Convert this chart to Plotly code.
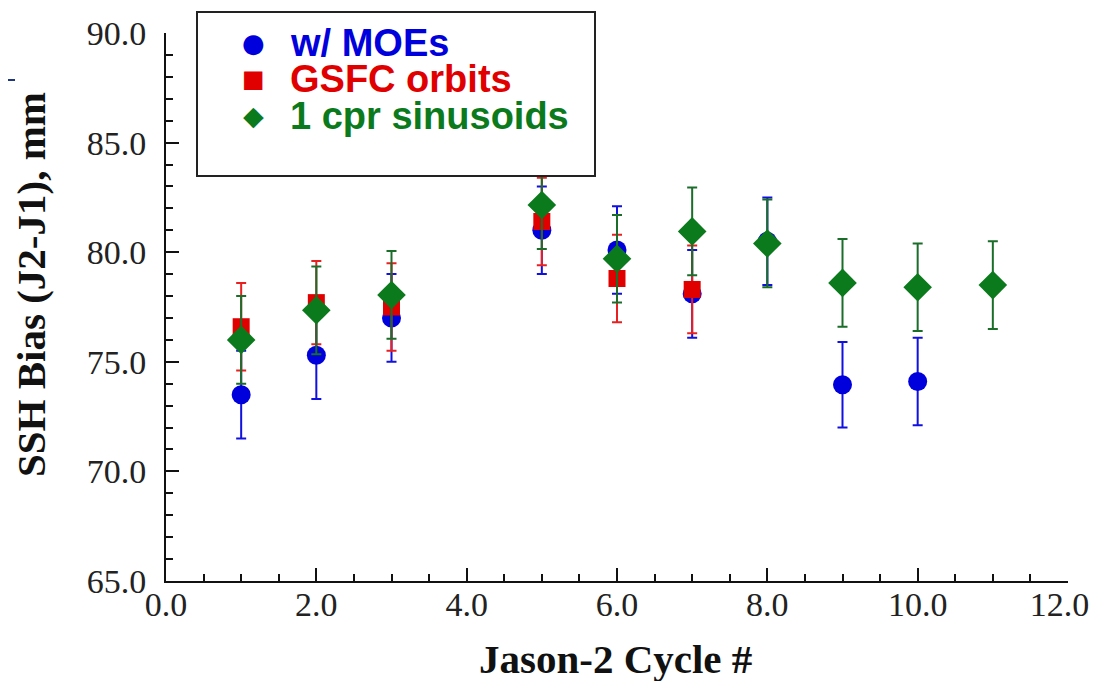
import plotly.graph_objects as go

# Data
cycles_moe = [1, 2, 3, 5, 6, 7, 8, 9, 10]
bias_moe = [73.5, 75.3, 77.0, 81.0, 80.1, 78.1, 80.5, 73.95, 74.1]
err_moe = [2.0, 2.0, 2.0, 2.0, 2.0, 2.0, 2.0, 1.95, 2.0]

cycles_gsfc = [1, 2, 3, 5, 6, 7]
bias_gsfc = [76.6, 77.7, 77.5, 81.4, 78.8, 78.3]
err_gsfc = [2.0, 1.9, 2.0, 2.0, 2.0, 2.0]

cycles_cpr = [1, 2, 3, 5, 6, 7, 8, 9, 10, 11]
bias_cpr = [76.0, 77.35, 78.05, 82.15, 79.7, 80.95, 80.4, 78.6, 78.4, 78.5]
err_cpr = [2.0, 2.0, 2.0, 2.0, 2.0, 2.0, 2.0, 2.0, 2.0, 2.0]

series_names = ["w/ MOEs", "GSFC orbits", "1 cpr sinusoids"]

x_ticks = [0, 2, 4, 6, 8, 10, 12]
y_ticks = [65, 70, 75, 80, 85, 90]

BLUE = "#0000dd"
RED = "#e00000"
GREEN = "#0b7a1c"

# The page body has an 8px default margin; the figure starts 8px in from the window corner.
OFF = 8
W, H = 1099, 681
# plot-area edges (screen pixels): left 166, right 1068, top 33, bottom 581
L = 166 - OFF
R = W - (1068 - OFF)
T = 33 - OFF
B = H - (581 - OFF)
PW, PH = W - L - R, H - T - B


def px(xs):
    return (xs - OFF - L) / PW


def py(ys):
    return (H - B - (ys - OFF)) / PH


fig = go.Figure()


def add_series(x, y, e, name, color, symbol, size, ecolor):
    fig.add_trace(go.Scatter(
        x=x, y=y, mode="markers", name=name, showlegend=False,
        marker=dict(color=color, symbol=symbol, size=size, line=dict(width=0)),
        error_y=dict(type="data", array=e, visible=True, color=ecolor, thickness=2, width=5),
    ))


add_series(cycles_moe, bias_moe, err_moe, series_names[0], BLUE, "circle", 19, "#1010e0")
add_series(cycles_gsfc, bias_gsfc, err_gsfc, series_names[1], RED, "square", 17, "#e82020")
add_series(cycles_cpr, bias_cpr, err_cpr, series_names[2], GREEN, "diamond", 22, "#1a6e2a")

tick_font = dict(family="Liberation Serif, Times New Roman, serif", size=34, color="#222")
title_font = dict(family="Liberation Serif, Times New Roman, serif", size=41, color="#111")
leg_font = "Liberation Sans, Arial, sans-serif"

# last x label nudged left (trailing en space) so it stays inside the window
x_ticktext = [f"{v:.1f}" for v in x_ticks]
x_ticktext[-1] = x_ticktext[-1] + "\u2002"

annotations = [
    dict(text="<b>Jason-2 Cycle #</b>", xref="paper", yref="paper", x=px(615), y=py(659),
         xanchor="center", yanchor="middle", showarrow=False, font=title_font),
    dict(text="<b>SSH Bias (J2-J1), mm</b>", xref="paper", yref="paper", x=px(31), y=py(285),
         xanchor="center", yanchor="middle", showarrow=False, textangle=-90, font=title_font),
]

# manual legend (box + symbol glyphs + coloured labels)
leg_rows = [43, 79, 116]
leg_syms = ["●", "■", "◆"]
leg_sym_sizes = [26, 24, 27]
leg_cols = [BLUE, RED, GREEN]
for yrow, sym, ssz, col, name in zip(leg_rows, leg_syms, leg_sym_sizes, leg_cols, series_names):
    annotations.append(dict(text=sym, xref="paper", yref="paper", x=px(253), y=py(yrow),
                            xanchor="center", yanchor="middle", showarrow=False,
                            font=dict(family="DejaVu Sans", size=ssz, color=col)))
    annotations.append(dict(text=f"<b>{name}</b>", xref="paper", yref="paper", x=px(288), y=py(yrow),
                            xanchor="left", yanchor="middle", showarrow=False,
                            font=dict(family=leg_font, size=38, color=col)))

fig.update_layout(
    width=W, height=H,
    margin=dict(l=L, r=R, t=T, b=B, autoexpand=False),
    paper_bgcolor="white", plot_bgcolor="white",
    showlegend=False,
    xaxis=dict(
        range=[0, 12], tickvals=x_ticks, ticktext=x_ticktext,
        showgrid=False, zeroline=False, showline=True, linecolor="#111", linewidth=2,
        ticks="inside", ticklen=13, tickwidth=2, tickcolor="#111",
        minor=dict(dtick=0.5, ticks="inside", ticklen=7, tickwidth=2, tickcolor="#111", showgrid=False),
        tickfont=tick_font, ticklabelstandoff=-8, automargin=False,
    ),
    yaxis=dict(
        range=[65, 90], tickvals=y_ticks, ticktext=[f"{v:.1f}" for v in y_ticks],
        showgrid=False, zeroline=False, showline=True, linecolor="#111", linewidth=2,
        ticks="inside", ticklen=13, tickwidth=2, tickcolor="#111",
        minor=dict(dtick=1, ticks="inside", ticklen=7, tickwidth=2, tickcolor="#111", showgrid=False),
        tickfont=tick_font, ticklabelstandoff=11, automargin=False,
    ),
    annotations=annotations,
    shapes=[
        dict(type="rect", xref="paper", yref="paper", x0=px(197), x1=px(595), y0=py(176), y1=py(12),
             line=dict(color="#222", width=2), fillcolor="white", layer="above"),
        dict(type="line", xref="paper", yref="paper", x0=px(8), x1=px(15),
             y0=py(80), y1=py(80), line=dict(color="#1f3580", width=2)),
    ],
)

fig.write_html("out.html")
